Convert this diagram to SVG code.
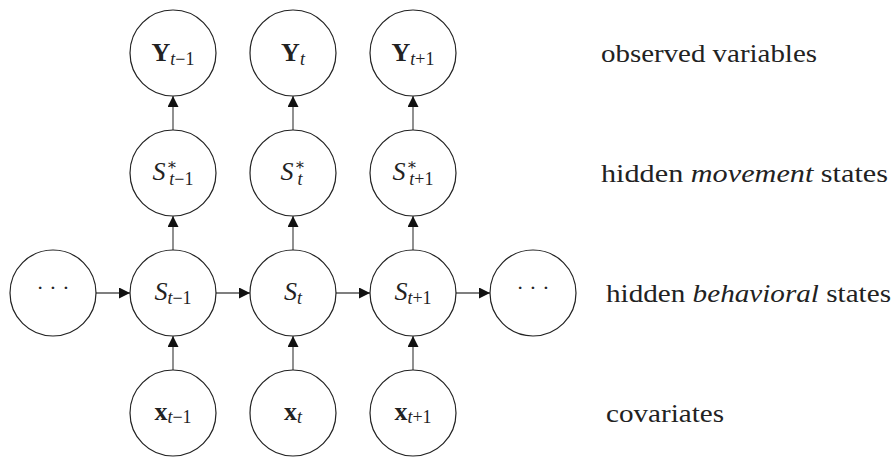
<svg xmlns="http://www.w3.org/2000/svg" width="896" height="458" viewBox="0 0 896 458">
  <defs>
    <marker id="ah" viewBox="0 0 11 11" refX="11" refY="5.5" markerWidth="11" markerHeight="11" markerUnits="userSpaceOnUse" orient="auto">
      <path d="M0,0 L11,5.5 L0,11 Z" fill="#111"/>
    </marker>
    <style>
      .nd { fill: #fff; stroke: #222; stroke-width: 1.2; }
      .ed { stroke: #555; stroke-width: 1.3; fill: none; marker-end: url(#ah); }
      text { font-family: "Liberation Serif", "DejaVu Serif", serif; fill: #222; }
      .m { font-size: 26px; text-anchor: middle; }
      .it { font-style: italic; }
      .bf { font-weight: bold; }
      .sb { font-size: 18px; font-weight: normal; }
      .sp { font-size: 16px; font-style: normal; font-weight: normal; }
      .lbl { font-size: 26px; }
      .dots { font-size: 22px; text-anchor: middle; }
    </style>
  </defs>

  <g id="connectors">
    <line class="ed" x1="173" y1="130" x2="173" y2="96"/>
    <line class="ed" x1="293" y1="130" x2="293" y2="96"/>
    <line class="ed" x1="413" y1="130" x2="413" y2="96"/>
    <line class="ed" x1="173" y1="250" x2="173" y2="216"/>
    <line class="ed" x1="293" y1="250" x2="293" y2="216"/>
    <line class="ed" x1="413" y1="250" x2="413" y2="216"/>
    <line class="ed" x1="173" y1="370" x2="173" y2="336"/>
    <line class="ed" x1="293" y1="370" x2="293" y2="336"/>
    <line class="ed" x1="413" y1="370" x2="413" y2="336"/>
    <line class="ed" x1="96" y1="293" x2="130" y2="293"/>
    <line class="ed" x1="216" y1="293" x2="250" y2="293"/>
    <line class="ed" x1="336" y1="293" x2="370" y2="293"/>
    <line class="ed" x1="456" y1="293" x2="490" y2="293"/>
  </g>

  <g id="n-Y-tm1">
    <circle class="nd" cx="173" cy="53" r="43"/>
    <text class="m bf" x="173" y="61">Y<tspan class="sb" dy="4"><tspan font-style="italic">t</tspan>−1</tspan></text>
  </g>
  <g id="n-Y-t">
    <circle class="nd" cx="293" cy="53" r="43"/>
    <text class="m bf" x="293" y="61">Y<tspan class="sb" dy="4" font-style="italic">t</tspan></text>
  </g>
  <g id="n-Y-tp1">
    <circle class="nd" cx="413" cy="53" r="43"/>
    <text class="m bf" x="413" y="61">Y<tspan class="sb" dy="4"><tspan font-style="italic">t</tspan>+1</tspan></text>
  </g>

  <g id="n-Sstar-tm1">
    <circle class="nd" cx="173" cy="173" r="43"/>
    <text class="m it" x="173" y="180">S<tspan class="sp" dx="1" dy="-10">∗</tspan><tspan class="sb" dx="-8" dy="15" font-style="italic">t<tspan font-style="normal">−1</tspan></tspan></text>
  </g>
  <g id="n-Sstar-t">
    <circle class="nd" cx="293" cy="173" r="43"/>
    <text class="m it" x="293" y="180">S<tspan class="sp" dx="1" dy="-10">∗</tspan><tspan class="sb" dx="-8" dy="15" font-style="italic">t</tspan></text>
  </g>
  <g id="n-Sstar-tp1">
    <circle class="nd" cx="413" cy="173" r="43"/>
    <text class="m it" x="413" y="180">S<tspan class="sp" dx="1" dy="-10">∗</tspan><tspan class="sb" dx="-8" dy="15" font-style="italic">t<tspan font-style="normal">+1</tspan></tspan></text>
  </g>

  <g id="n-dots-left">
    <circle class="nd" cx="53" cy="293" r="43"/>
    <text class="dots" x="53" y="295">· · ·</text>
  </g>
  <g id="n-S-tm1">
    <circle class="nd" cx="173" cy="293" r="43"/>
    <text class="m it" x="173" y="300">S<tspan class="sb" dy="4">t<tspan font-style="normal">−1</tspan></tspan></text>
  </g>
  <g id="n-S-t">
    <circle class="nd" cx="293" cy="293" r="43"/>
    <text class="m it" x="293" y="300">S<tspan class="sb" dy="4">t</tspan></text>
  </g>
  <g id="n-S-tp1">
    <circle class="nd" cx="413" cy="293" r="43"/>
    <text class="m it" x="413" y="300">S<tspan class="sb" dy="4">t<tspan font-style="normal">+1</tspan></tspan></text>
  </g>
  <g id="n-dots-right">
    <circle class="nd" cx="533" cy="293" r="43"/>
    <text class="dots" x="533" y="295">· · ·</text>
  </g>

  <g id="n-x-tm1">
    <circle class="nd" cx="173" cy="413" r="43"/>
    <text class="m bf" x="173" y="420">x<tspan class="sb" dy="3"><tspan font-style="italic">t</tspan>−1</tspan></text>
  </g>
  <g id="n-x-t">
    <circle class="nd" cx="293" cy="413" r="43"/>
    <text class="m bf" x="293" y="420">x<tspan class="sb" dy="3" font-style="italic">t</tspan></text>
  </g>
  <g id="n-x-tp1">
    <circle class="nd" cx="413" cy="413" r="43"/>
    <text class="m bf" x="413" y="420">x<tspan class="sb" dy="3"><tspan font-style="italic">t</tspan>+1</tspan></text>
  </g>

  <g id="labels">
    <text class="lbl" x="601" y="62" textLength="216" lengthAdjust="spacingAndGlyphs">observed variables</text>
    <text class="lbl" x="601" y="182" textLength="287" lengthAdjust="spacingAndGlyphs">hidden <tspan font-style="italic">movement</tspan> states</text>
    <text class="lbl" x="606" y="302" textLength="285" lengthAdjust="spacingAndGlyphs">hidden <tspan font-style="italic">behavioral</tspan> states</text>
    <text class="lbl" x="606" y="422" textLength="118" lengthAdjust="spacingAndGlyphs">covariates</text>
  </g>
</svg>
